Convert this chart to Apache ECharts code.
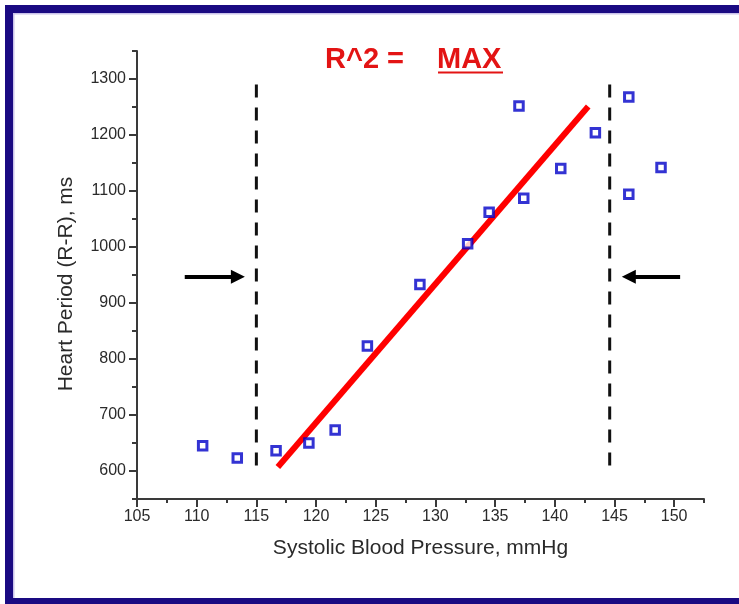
<!DOCTYPE html>
<html>
<head>
<meta charset="utf-8">
<script src="https://cdn.jsdelivr.net/npm/echarts@6/dist/echarts.min.js"></script>
<style>
html,body{margin:0;padding:0;background:#fff;}
#chart{width:739px;height:604px;}
</style>
</head>
<body>
<div id="chart"></div>
<script>
// Data
const sbp = [110.5, 113.4, 116.65, 119.4, 121.6, 124.3, 128.7, 132.7, 134.5, 137.0, 137.4, 140.5, 143.4, 146.2, 146.2, 148.9];
const rr  = [645, 623, 636, 650, 673, 823, 933, 1006, 1062, 1252, 1087, 1140, 1204, 1268, 1094, 1142];
const fitX = [116.8, 142.8];
const fitY = [607, 1251];
const windowX = [115.0, 144.6];
const windowY = [1290, 598];
const leftArrowX = [109.0, 113.45];
const rightArrowX = [150.5, 146.2];
const arrowY = 947;
const xTicks = [105, 110, 115, 120, 125, 130, 135, 140, 145, 150];
const xMinorTicks = [107.5, 112.5, 117.5, 122.5, 127.5, 132.5, 137.5, 142.5, 147.5, 152.5];
const yTicks = [600, 700, 800, 900, 1000, 1100, 1200, 1300];
const yMinorTicks = [550, 650, 750, 850, 950, 1050, 1150, 1250, 1350];

const pts = sbp.map((x, i) => [x, rr[i]]);
const font = 'Liberation Sans, Arial, sans-serif';
const axisColor = '#3a3a3a';
const textColor = '#2a2a2a';

const chart = echarts.init(document.getElementById('chart'), null, {renderer: 'canvas'});
chart.setOption({
  animation: false,
  backgroundColor: '#ffffff',
  title: [
    {text: 'R^2 =', left: 325, top: 45, padding: 0, textStyle: {color: '#e31414', fontSize: 29, fontWeight: 'bold', fontFamily: font}},
    {text: 'MAX', left: 437, top: 45, padding: 0, textStyle: {color: '#e31414', fontSize: 29, fontWeight: 'bold', fontFamily: font}}
  ],
  graphic: [
    {type: 'rect', shape: {x: 5, y: 5, width: 734, height: 8}, style: {fill: '#1a0a82'}, z: 100},
    {type: 'rect', shape: {x: 5, y: 5, width: 8, height: 599}, style: {fill: '#1a0a82'}, z: 100},
    {type: 'rect', shape: {x: 5, y: 598, width: 734, height: 6}, style: {fill: '#1a0a82'}, z: 100},
    {type: 'rect', shape: {x: 13, y: 13, width: 726, height: 1.5}, style: {fill: '#c9c2ea'}, z: 100},
    {type: 'rect', shape: {x: 13, y: 13, width: 1.5, height: 585}, style: {fill: '#c9c2ea'}, z: 100},
    {type: 'line', shape: {x1: 438, y1: 72.5, x2: 503, y2: 72.5}, style: {stroke: '#e31414', lineWidth: 2}, z: 100}
  ],
  grid: {left: 137, top: 51, width: 567, height: 448, containLabel: false},
  xAxis: [{
    type: 'value', min: 105, max: 152.5,
    name: 'Systolic Blood Pressure, mmHg', nameLocation: 'middle', nameGap: 39,
    nameTextStyle: {fontSize: 21, color: textColor, fontFamily: font},
    axisLine: {show: true, onZero: false, lineStyle: {color: axisColor, width: 2}},
    axisTick: {show: true, inside: false, length: 8, customValues: xTicks, lineStyle: {color: axisColor, width: 2}},
    axisLabel: {show: true, customValues: xTicks, margin: 10, fontSize: 16, color: textColor, fontFamily: font,
      formatter: v => String(v)},
    splitLine: {show: false}
  }, {
    type: 'value', min: 105, max: 152.5, gridIndex: 0, position: 'bottom',
    axisLine: {show: false},
    axisTick: {show: true, length: 4, customValues: xMinorTicks, lineStyle: {color: axisColor, width: 2}},
    axisLabel: {show: false},
    splitLine: {show: false}
  }],
  yAxis: [{
    type: 'value', min: 550, max: 1350,
    name: 'Heart Period (R-R), ms', nameLocation: 'middle', nameGap: 60,
    nameTextStyle: {fontSize: 21, color: textColor, fontFamily: font, padding: [0, 18, 0, 0]},
    axisLine: {show: true, onZero: false, lineStyle: {color: axisColor, width: 2}},
    axisTick: {show: true, inside: false, length: 8, customValues: yTicks, lineStyle: {color: axisColor, width: 2}},
    axisLabel: {show: true, customValues: yTicks, margin: 11, fontSize: 16, color: textColor, fontFamily: font,
      formatter: v => String(v)},
    splitLine: {show: false}
  }, {
    type: 'value', min: 550, max: 1350, gridIndex: 0, position: 'left',
    axisLine: {show: false},
    axisTick: {show: true, length: 5, customValues: yMinorTicks, lineStyle: {color: axisColor, width: 2}},
    axisLabel: {show: false},
    splitLine: {show: false}
  }],
  series: [
    {
      type: 'line', name: 'leftWindow', silent: true, symbol: 'none', z: 2,
      data: [[windowX[0], windowY[0]], [windowX[0], windowY[1]]],
      lineStyle: {color: '#111', width: 3, type: [13, 10]}
    },
    {
      type: 'line', name: 'rightWindow', silent: true, symbol: 'none', z: 2,
      data: [[windowX[1], windowY[0]], [windowX[1], windowY[1]]],
      lineStyle: {color: '#111', width: 3, type: [13, 10]}
    },
    {
      type: 'line', name: 'fit', silent: true, symbol: 'none', z: 2,
      data: [[fitX[0], fitY[0]], [fitX[1], fitY[1]]],
      lineStyle: {color: '#ff0000', width: 6}
    },
    {
      type: 'scatter', name: 'data', silent: true, z: 3,
      symbol: 'rect', symbolSize: 8.5,
      itemStyle: {color: '#ffffff', borderColor: '#0000c8', borderWidth: 3},
      data: pts,
      markLine: {
        silent: true, symbol: ['none', 'triangle'], symbolSize: 14,
        label: {show: false},
        lineStyle: {color: '#000', width: 4, type: 'solid'},
        emphasis: {disabled: true},
        data: [
          [{coord: [leftArrowX[0], arrowY]}, {coord: [leftArrowX[1], arrowY]}],
          [{coord: [rightArrowX[0], arrowY]}, {coord: [rightArrowX[1], arrowY]}]
        ]
      }
    }
  ]
});
</script>
</body>
</html>
